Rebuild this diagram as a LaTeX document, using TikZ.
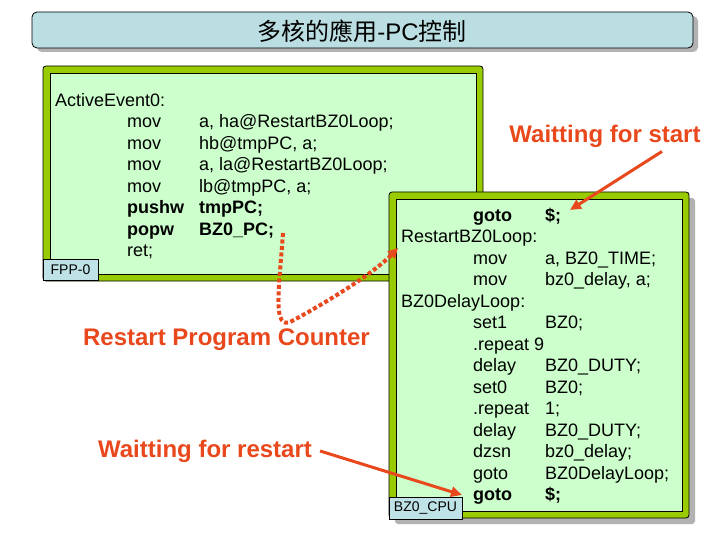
\documentclass[tikz,border=0pt]{standalone}
\usepackage{fontspec}
\setmainfont{Liberation Sans}
\newfontfamily\cjk{Noto Sans CJK TC}
\usetikzlibrary{arrows.meta,shadows}

\definecolor{titlecyan}{RGB}{186,222,225}
\definecolor{framegreen}{RGB}{153,204,0}
\definecolor{codegreen}{RGB}{204,255,204}
\definecolor{notered}{RGB}{232,72,28}
\definecolor{tagcyan}{RGB}{190,226,230}

\tikzset{
	titlebox/.style={draw=black,line width=0.8pt,fill=titlecyan,rounded corners=5pt,inner sep=0,
		drop shadow={shadow xshift=5pt,shadow yshift=-4pt,fill=black!30,opacity=1}},
	framebox/.style={draw=black,line width=0.8pt,fill=framegreen,rounded corners=3pt,inner sep=0},
	codebox/.style={draw=black,line width=0.6pt,fill=codegreen,inner sep=0},
	tagbox/.style={draw=black,line width=0.8pt,fill=tagcyan,inner sep=0,font=\fontsize{14pt}{16pt}\selectfont},
	listing/.style={anchor=base west,inner sep=0,font=\fontsize{18pt}{21.5pt}\selectfont},
	note/.style={text=notered,inner sep=0,font=\bfseries\fontsize{24pt}{28pt}\selectfont},
	notearrow/.style={draw=notered,line width=3pt,-{Triangle[length=11pt,width=10pt]}},
	pcarrow/.style={draw=notered,line width=4pt,dash pattern=on 4pt off 2.5pt,-{Triangle[length=10pt,width=10pt]}}
}

\begin{document}
\begin{tikzpicture}[x=1pt,y=-1pt]
	\useasboundingbox (0,0) rectangle (720,540);
	% title
	\node[titlebox,minimum width=661pt,minimum height=36pt] (title) at (362.5,30) {};
	\node[font=\fontsize{24pt}{29pt}\selectfont] (titletext) at (362,31) {{\cjk 多核的應用}-PC{\cjk 控制}};
	% FPP-0 box
	\node[framebox,minimum width=440pt,minimum height=215pt] (fpp) at (263,173.5) {};
	\node[codebox,minimum width=426pt,minimum height=201pt] (fppin) at (fpp.center) {};
	\node[tagbox,minimum width=55pt,minimum height=21pt] (fpptag) at (70.5,270) {FPP-0};
	\node[listing] (fppcode) at (55,106.5) {\begin{tabular}[t]{@{}p{72pt}@{}p{72pt}@{}l@{}}
		\multicolumn{3}{@{}l@{}}{ActiveEvent0:}\\
		& mov & a, ha@RestartBZ0Loop;\\
		& mov & hb@tmpPC, a;\\
		& mov & a, la@RestartBZ0Loop;\\
		& mov & lb@tmpPC, a;\\
		& \textbf{pushw} & \textbf{tmpPC;}\\
		& \textbf{popw} & \textbf{BZ0\_PC;}\\
		& ret; &
	\end{tabular}};
	% BZ0_CPU box
	\node[framebox,minimum width=300pt,minimum height=326pt,
		drop shadow={shadow xshift=6pt,shadow yshift=-6pt,fill=black!30,opacity=1}] (cpu) at (539,355) {};
	\node[codebox,minimum width=286pt,minimum height=312pt] (cpuin) at (cpu.center) {};
	\node[tagbox,minimum width=73pt,minimum height=22pt] (cputag) at (425.5,508) {BZ0\_CPU};
	\node[listing] (cpucode) at (401,221.5) {\begin{tabular}[t]{@{}p{72pt}@{}p{72pt}@{}l@{}}
		& \textbf{goto} & \textbf{\$;}\\
		\multicolumn{3}{@{}l@{}}{RestartBZ0Loop:}\\
		& mov & a, BZ0\_TIME;\\
		& mov & bz0\_delay, a;\\
		\multicolumn{3}{@{}l@{}}{BZ0DelayLoop:}\\
		& set1 & BZ0;\\
		& .repeat 9 & \\
		& delay & BZ0\_DUTY;\\
		& set0 & BZ0;\\
		& .repeat & 1;\\
		& delay & BZ0\_DUTY;\\
		& dzsn & bz0\_delay;\\
		& goto & BZ0DelayLoop;\\
		& \textbf{goto} & \textbf{\$;}
	\end{tabular}};
	% notes
	\node[note] (wstart) at (605,136) {Waitting for start};
	\node[note] (restartpc) at (226.5,340) {Restart Program Counter};
	\node[note] (wrestart) at (205,451) {Waitting for restart};
	\coordinate (startgoto) at (570,210);
	\coordinate (endgoto) at (462,495);
	\coordinate (pcout) at (283,233);
	\coordinate (loopin) at (398,248);
	\draw[notearrow] ([xshift=57pt,yshift=-4pt]wstart.south) -- (startgoto);
	\draw[notearrow] ([xshift=8pt]wrestart.east) -- (endgoto);
	\draw[pcarrow] (pcout) .. controls (279,290) and (272,332) .. (292,321)
		.. controls (320,306) and (372,275) .. (loopin);
\end{tikzpicture}
\end{document}
